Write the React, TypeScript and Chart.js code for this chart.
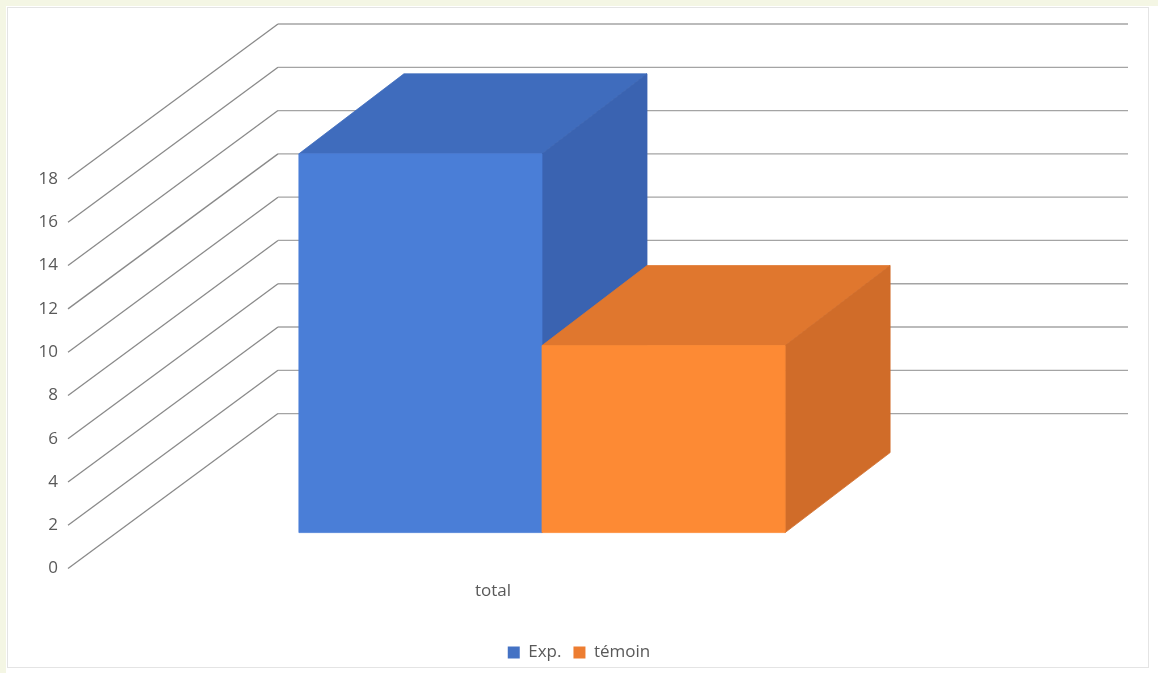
import { useEffect, useRef } from "react";
import { Chart, registerables } from "chart.js";

Chart.register(...registerables);

// ---- data ----
const categories = ["total"];
const seriesNames = ["Exp.", "témoin"];
const expValues = [17.5];
const temoinValues = [8.64];
const yTickValues = [0, 2, 4, 6, 8, 10, 12, 14, 16, 18];

// ---- styles ----
const FRONT = ["#4a7ed7", "#fd8a34"];
const TOP = ["#3f6cbd", "#e0772e"];
const SIDE = ["#3a63b1", "#d06c29"];
const LEGEND_COLORS = ["#4472c4", "#ed7d31"];

// oblique projection offsets (pixels)
const WALL = { dx: 210, dy: -155 };
const BAR_FRONT = { dx: 49, dy: -36 };
const BAR_BACK = { dx: 154, dy: -116 };

const poly = (ctx: CanvasRenderingContext2D, pts: number[][], fill: string) => {
  ctx.beginPath();
  ctx.moveTo(pts[0][0], pts[0][1]);
  for (let i = 1; i < pts.length; i++) ctx.lineTo(pts[i][0], pts[i][1]);
  ctx.closePath();
  ctx.fillStyle = fill;
  ctx.fill();
  ctx.strokeStyle = fill;
  ctx.lineWidth = 0.8;
  ctx.stroke();
};

const backgroundPlugin = {
  id: "bg3d",
  beforeDraw(chart: any) {
    const { ctx, width, height } = chart;
    ctx.save();
    ctx.fillStyle = "#f4f6e4";
    ctx.fillRect(0, 0, width, height);
    ctx.fillStyle = "#ffffff";
    ctx.fillRect(6, 6, width - 6, height - 6);
    ctx.strokeStyle = "#e4e4e4";
    ctx.lineWidth = 1;
    ctx.strokeRect(7.5, 7.5, 1141, 660);
    ctx.restore();
  },
  beforeDatasetsDraw(chart: any) {
    const { ctx, chartArea } = chart;
    const ys = chart.scales.y;
    ctx.save();
    // walls: diagonal side-wall lines and back-wall lines
    yTickValues.forEach((v) => {
      const py = ys.getPixelForValue(v);
      ctx.beginPath();
      ctx.strokeStyle = "#8a8a8a";
      ctx.lineWidth = 1.3;
      ctx.moveTo(chartArea.left, py);
      ctx.lineTo(chartArea.left + WALL.dx, py + WALL.dy);
      ctx.stroke();
      ctx.beginPath();
      ctx.strokeStyle = "#a4a4a4";
      ctx.lineWidth = 1.3;
      ctx.moveTo(chartArea.left + WALL.dx, py + WALL.dy);
      ctx.lineTo(chartArea.right + WALL.dx, py + WALL.dy);
      ctx.stroke();
    });
    // 3D boxes, in dataset order
    chart.data.datasets.forEach((ds: any, di: number) => {
      const meta = chart.getDatasetMeta(di);
      meta.data.forEach((el: any) => {
        const { x, y, base, width } = el.getProps(["x", "y", "base", "width"], true);
        const l = x - width / 2;
        const r = x + width / 2;
        const fL = l + BAR_FRONT.dx, fR = r + BAR_FRONT.dx;
        const fT = y + BAR_FRONT.dy, fB = base + BAR_FRONT.dy;
        const bL = l + BAR_BACK.dx, bR = r + BAR_BACK.dx;
        const bT = y + BAR_BACK.dy, bB = base + BAR_BACK.dy;
        poly(ctx, [[fL, fT], [fR, fT], [bR, bT], [bL, bT]], TOP[di]);
        poly(ctx, [[fR, fT], [bR, bT], [bR, bB], [fR, fB]], SIDE[di]);
        poly(ctx, [[fL, fT], [fR, fT], [fR, fB], [fL, fB]], FRONT[di]);
      });
    });
    ctx.restore();
    return false;
  },
};

export default function App() {
  const ref = useRef<HTMLCanvasElement | null>(null);
  useEffect(() => {
    if (!ref.current) return;
    const font = { family: "'Open Sans', 'Noto Sans', sans-serif", size: 17 };
    const chart = new Chart(ref.current, {
      type: "bar",
      data: {
        labels: categories,
        datasets: [
          { label: seriesNames[0], data: expValues, backgroundColor: LEGEND_COLORS[0] },
          { label: seriesNames[1], data: temoinValues, backgroundColor: LEGEND_COLORS[1] },
        ],
      },
      options: {
        responsive: false,
        animation: false,
        devicePixelRatio: 1,
        layout: { padding: { top: 179, left: 0, right: 0, bottom: 2 } },
        datasets: { bar: { categoryPercentage: 0.572, barPercentage: 1 } },
        scales: {
          x: {
            grid: { display: false, drawTicks: false },
            border: { display: false },
            ticks: { color: "#595959", font, padding: 12 },
            afterFit: (s: any) => {
              s.height += 19;
            },
          },
          y: {
            min: 0,
            max: 18,
            grid: { display: false, drawTicks: false },
            border: { display: false },
            ticks: { stepSize: 2, color: "#595959", font, padding: 10 },
            afterFit: (s: any) => {
              s.width = 68;
            },
          },
          yRight: {
            position: "right",
            display: true,
            min: 0,
            max: 18,
            grid: { display: false, drawTicks: false },
            border: { display: false },
            ticks: { display: false },
            afterFit: (s: any) => {
              s.width = 240;
            },
          },
        },
        plugins: {
          legend: {
            position: "bottom",
            labels: {
              color: "#595959",
              font,
              boxWidth: 12,
              boxHeight: 12,
              padding: 12,
            },
          },
          tooltip: { enabled: false },
        },
      },
      plugins: [backgroundPlugin],
    });
    return () => chart.destroy();
  }, []);
  return (
    <div style={{ position: "fixed", left: 0, top: 0, width: 1158, height: 673 }}>
      <canvas ref={ref} width={1158} height={673} style={{ display: "block" }} />
    </div>
  );
}
